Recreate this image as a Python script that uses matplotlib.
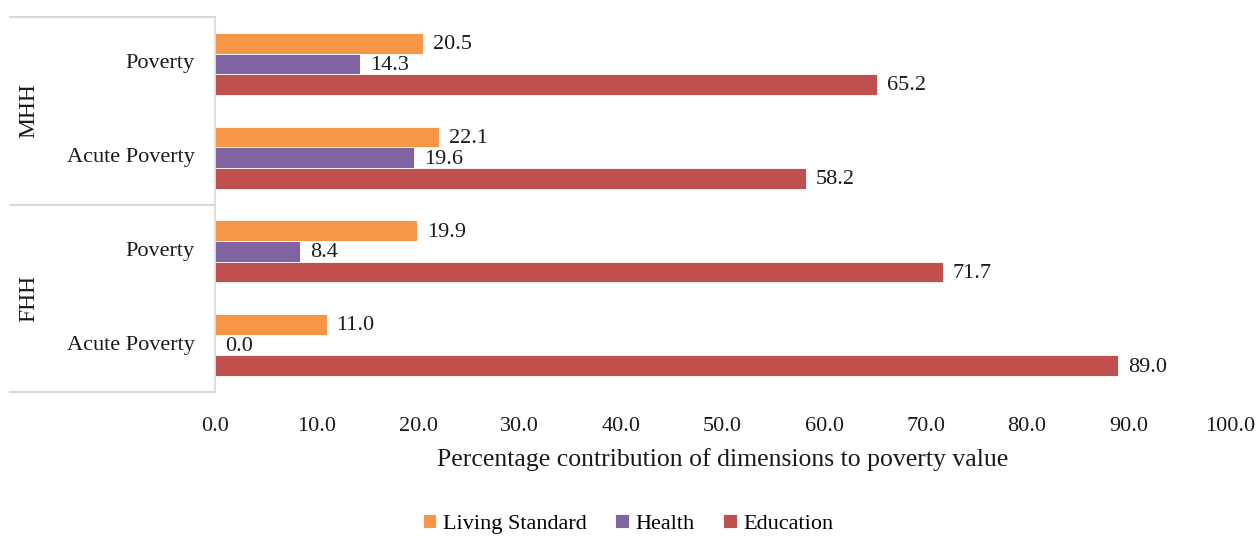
import matplotlib
matplotlib.use('Agg')
import matplotlib.pyplot as plt
import numpy as np

#-----------------------------------------------------------------------------#
# data

groups = ['MHH', 'FHH']
categories = ['Poverty', 'Acute Poverty', 'Poverty', 'Acute Poverty']
series_names = ['Living Standard', 'Health', 'Education']
living_standard = [20.5, 22.1, 19.9, 11.0]
health = [14.3, 19.6, 8.4, 0.0]
education = [65.2, 58.2, 71.7, 89.0]
xticks = [0, 10, 20, 30, 40, 50, 60, 70, 80, 90, 100]

COLORS = ['#f79646', '#8064a2', '#c0504d']
GRID = '#d9d9d9'
FS = 16

plt.rcParams['font.family'] = ['Liberation Serif', 'DejaVu Serif']

#-----------------------------------------------------------------------------#
# plot

fig = plt.figure(figsize=(12.56, 5.38), dpi=100)
ax = fig.add_axes([215 / 1256, 1 - 392 / 538, 1015 / 1256, 375 / 538])

n = len(categories)
y = np.arange(n)
h = 0.22
values = [living_standard, health, education]
for i, (name, vals, col) in enumerate(zip(series_names, values, COLORS)):
    pos = y + (i - 1) * h
    bars = ax.barh(pos, vals, height=h, color=col, label=name,
                   edgecolor='white', linewidth=0.6)
    for b, v in zip(bars, vals):
        ax.annotate('%.1f' % v, (v, b.get_y() + b.get_height() / 2),
                    xytext=(7, -1), textcoords='offset points',
                    va='center', ha='left', fontsize=FS, color='#1a1a1a')

ax.set_ylim(n - 0.5, -0.5)
ax.set_xlim(0, 100)
ax.set_xticks(xticks)
ax.set_xticklabels(['%.1f' % t for t in xticks], fontsize=FS, color='#1a1a1a')
ax.tick_params(axis='x', length=0, pad=18)
ax.set_yticks([])
ax.set_xlabel('Percentage contribution of dimensions to poverty value',
              fontsize=18.5, color='#1a1a1a', labelpad=9)
for s in ['top', 'right', 'bottom']:
    ax.spines[s].set_visible(False)
ax.spines['left'].set_color(GRID)
ax.spines['left'].set_linewidth(1.2)

# category labels and group boxes
trans = ax.get_yaxis_transform()
for yi, cat in zip(y, categories):
    ax.text(-0.02, yi, cat, transform=trans, ha='right', va='center',
            fontsize=FS, color='#1a1a1a')
x_left = (10 - 215) / 1015
for yb in [-0.5, 1.5, 3.5]:
    ax.plot([x_left, 0], [yb, yb], transform=trans, color=GRID,
            linewidth=1.5, clip_on=False)
for gi, g in enumerate(groups):
    ax.text((29 - 215) / 1015, gi * 2 + 0.5, g, transform=trans,
            rotation=90, ha='center', va='center', fontsize=17,
            color='#1a1a1a')

fig.legend(loc='center', bbox_to_anchor=(0.5, 1 - 524 / 538), ncol=3,
           frameon=False, fontsize=FS, handlelength=0.6, handleheight=0.6,
           handletextpad=0.3, columnspacing=1.3)

fig.savefig('out.png', dpi=100)
